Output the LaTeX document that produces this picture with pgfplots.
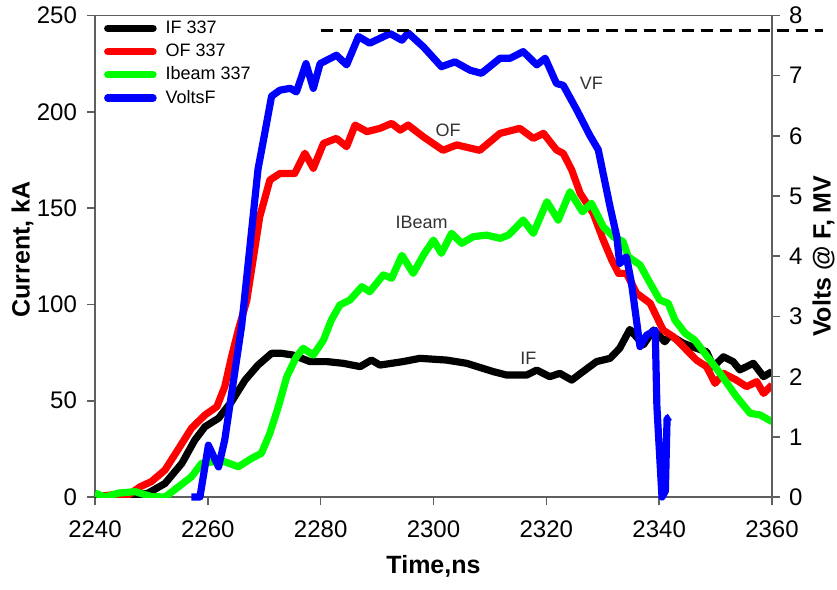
\documentclass[border=0pt]{standalone}
\usepackage{fontspec}
\setmainfont{Liberation Sans}
\usepackage{pgfplots}
\pgfplotsset{compat=1.18}
\definecolor{axgray}{RGB}{95,95,95}
\definecolor{cgreen}{RGB}{0,255,0}
\definecolor{cblue}{RGB}{0,0,255}
\definecolor{cred}{RGB}{255,0,0}

\pgfplotsset{
  base/.style={
    scale only axis, width=338.5pt, height=240.75pt,
    xmin=2240, xmax=2360,
    axis line style={axgray, line width=0.8pt},
    tick style={axgray, line width=0.8pt},
    tick align=outside, major tick length=4pt,
    tick label style={font=\fontsize{12}{14}\selectfont},
    /pgf/number format/assume math mode=true,
    /pgf/number format/set thousands separator={},
  },
  curve/.style={line width=3.6pt, line join=round},
}

\begin{document}
\begin{tikzpicture}
\useasboundingbox (-47.5pt,-46.5pt) rectangle (371pt,248.5pt);

\begin{axis}[base,
  ymin=0, ymax=250, ytick={0,50,...,250},
  xtick={2240,2260,...,2360},
  xtick pos=bottom, ytick pos=left,
  xticklabel style={yshift=-4.5pt},
  yticklabel style={xshift=-1.5pt},
  xlabel={\bfseries Time,ns}, ylabel={\bfseries Current, kA},
  label style={font=\fontsize{12.5}{14}\selectfont},
  xlabel style={at={(axis description cs:0.5,-0.145)}, anchor=center},
  ylabel style={at={(axis description cs:-0.107,0.514)}, anchor=center},
  legend style={at={(axis description cs:0.004,1.003)}, anchor=north west,
    draw=none, fill=none, font=\fontsize{9}{10}\selectfont,
    nodes={inner sep=0.5pt, text height=7pt, text depth=2pt},
    /tikz/every odd column/.style={column sep=4pt},
    row sep=1.6pt},
  legend cell align=left,
  legend image code/.code={\draw[#1, line width=3.6pt, line cap=round] (1.8pt,0pt) -- (24.5pt,0pt);},
]
% IF 337
\addplot[curve, black] coordinates {
(2240,0)(2243.5,0)(2246,0.5)(2249.4,2)(2252.4,7)(2255.4,17.5)(2257.7,29.6)
(2259.5,36.5)(2261.9,40.9)(2264.2,49.5)(2266.6,60.7)(2268.9,68.5)(2271.3,74.6)
(2273.1,74.6)(2275.1,73.7)(2278.1,70.3)(2281.1,70.3)(2284,69.4)(2287,67.7)
(2289,71.1)(2290.5,68.5)(2294.6,70.3)(2297.6,72)(2302.3,71.1)(2305.9,69.4)
(2310.6,65.1)(2313,63.3)(2316.5,63.3)(2318.3,65.9)(2320.6,62.5)(2322.4,64.2)
(2324.5,60.7)(2326.5,65.1)(2328.9,70.3)(2331.3,72)(2333,77.2)(2334.8,87)
(2337.2,79)(2339,86.7)(2341,80.6)(2341.9,84)(2344.3,79.8)(2346.6,77.2)
(2348.4,75.4)(2349.6,67.7)(2351.4,72.8)(2353.1,70.3)(2354.3,66)(2356.7,69.4)
(2358.5,62.5)(2360,65.1)
};
\addlegendentry{IF 337}
% OF 337
\addplot[curve, cred] coordinates {
(2241,0.5)(2242.7,1)(2245.9,1)(2248,5.3)(2250,8)(2252.4,14)(2254.8,25)
(2257.1,35.7)(2259.5,42.6)(2261.6,46.9)(2263,57.3)(2264.2,72.8)(2265.4,86.7)
(2266.9,102)(2269.2,145.5)(2271,164.6)(2272.8,168)(2275.4,168)(2277.2,178.5)
(2278.7,170.7)(2280.5,183.6)(2282.8,186.2)(2284.6,181.9)(2286.1,193.1)
(2288.2,189.7)(2290.5,191.4)(2292.6,194)(2294.1,190.5)(2295.5,193.1)
(2298.2,187)(2301.7,180)(2304.1,182.8)(2308.2,180)(2311.8,188.8)(2315.3,191.4)
(2317.7,186.2)(2319.5,188.8)(2321.8,180.2)(2323,178.4)(2324.5,169.8)
(2326,157.7)(2328.3,147.3)(2330.1,133.4)(2331.6,123)(2332.8,116.1)
(2334.2,116.1)(2336,105.8)(2338.4,100.6)(2340.7,86.7)(2342.5,83.2)
(2343.7,79.8)(2346.6,71.1)(2348.4,67.7)(2349.9,59)(2351.4,64.2)(2353.7,60.7)
(2355.5,57.3)(2357.3,59.9)(2358.5,53.8)(2360,58.2)
};
\addlegendentry{OF 337}
% Ibeam 337
\addplot[curve, cgreen] coordinates {
(2240,2)(2241.8,0)(2244.1,2)(2247.1,2.8)(2250,0.2)(2252.4,0)(2254.8,5.3)
(2257.1,10.5)(2258.9,17.5)(2261,18.3)(2263,18.3)(2265.4,15.7)(2267.8,20.1)
(2269.5,22.7)(2271,33.1)(2272.5,46.9)(2274,62.5)(2275.7,72.8)(2276.9,77.2)
(2278.7,73.7)(2280.5,81.5)(2281.9,91.9)(2283.4,99.7)(2285.2,102.3)
(2287.3,109.2)(2288.7,106.6)(2291.1,115.3)(2292.6,113.6)(2294.4,125.5)
(2296.4,116.1)(2298.3,126)(2300,133.4)(2301.4,126.5)(2303.2,136.9)
(2305,131.7)(2307,135.1)(2309.4,136)(2311.8,134.3)(2313.3,136)(2315.9,143.8)
(2317.7,136.9)(2320.1,153.3)(2322.1,143.8)(2324.2,158.5)(2326.4,148.1)
(2328,152.5)(2330.1,140.3)(2331.9,135.1)(2333.6,132.6)(2334.5,124.8)
(2336.6,120.5)(2338.4,111)(2340.1,102.3)(2341.6,100.6)(2342.8,91.9)
(2344.6,85)(2346.3,81.5)(2347.2,78)(2350.8,64.2)(2353.7,52.1)(2356.1,43.5)
(2357.9,42.6)(2360,39.1)
};
\addlegendentry{Ibeam 337}
\addlegendimage{curve, cblue}
\addlegendentry{VoltsF}

\node[font=\fontsize{9}{10}\selectfont, text=black!80] at (axis cs:2328,214.8) {VF};
\node[font=\fontsize{9}{10}\selectfont, text=black!80] at (axis cs:2302.6,190.5) {OF};
\node[font=\fontsize{9}{10}\selectfont, text=black!80] at (axis cs:2297.9,142.4) {IBeam};
\node[font=\fontsize{9}{10}\selectfont, text=black!80] at (axis cs:2316.8,72) {IF};
\end{axis}

\begin{axis}[base,
  axis y line*=right, axis x line=none,
  ymin=0, ymax=8, ytick={0,1,...,8},
  yticklabel style={xshift=1pt},
  clip=false,
]
% VoltsF
\addplot[curve, cblue] coordinates {
(2257.1,0)(2258.6,0)(2260.1,0.86)(2261.9,0.5)(2263,0.95)(2266,2.85)
(2268.9,5.45)(2270.2,6.1)(2271.3,6.66)(2272.8,6.76)(2274.6,6.79)(2275.7,6.73)
(2277.4,7.2)(2278.7,6.79)(2279.9,7.2)(2282.8,7.34)(2284.6,7.18)(2286.7,7.65)
(2288.7,7.54)(2292.3,7.70)(2294.4,7.59)(2295.5,7.71)(2298.2,7.48)(2301.4,7.15)
(2303.8,7.23)(2306.5,7.09)(2308.5,7.04)(2311.8,7.29)(2313.6,7.29)(2315.9,7.40)
(2318.3,7.18)(2319.8,7.29)(2321.8,6.87)(2323,6.84)(2325.4,6.43)(2327.7,6.01)
(2329.2,5.77)(2331.3,4.82)(2332.5,4.32)(2333,3.88)(2334.2,3.99)(2335.1,3.55)
(2336.6,2.5)(2337.8,2.69)(2339.3,2.77)(2339.6,1.5)(2340.5,0)(2341.1,0.1)
(2341.4,1.3)(2341.9,1.33)
};
% reference level
\addplot[black, line width=1.5pt, dash pattern=on 6pt off 3.5pt] coordinates {(2280,7.75)(2369,7.75)};
\node[rotate=90, anchor=center, font=\bfseries\fontsize{12.5}{14}\selectfont]
  at (rel axis cs:1.076,0.5) {Volts @ F, MV};
\end{axis}
\end{tikzpicture}
\end{document}
